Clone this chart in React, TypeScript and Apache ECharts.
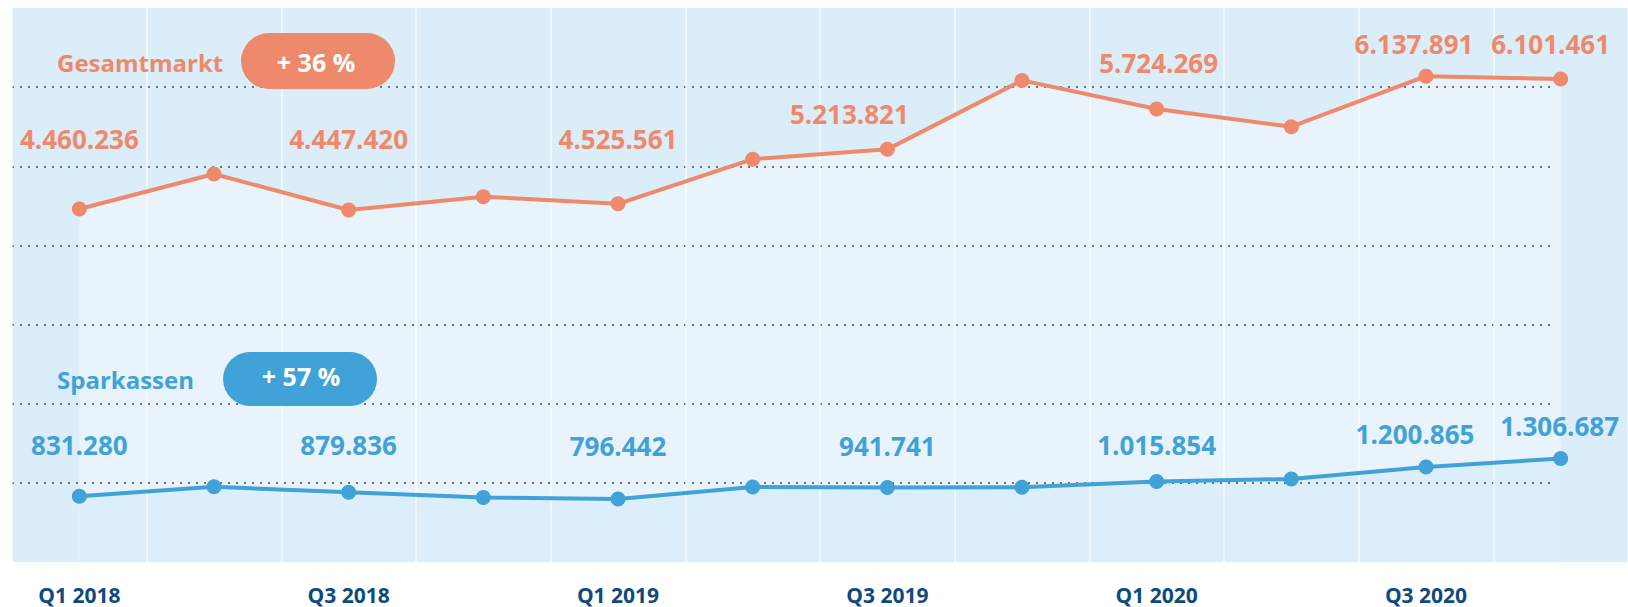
import React, { useEffect, useRef } from "react";
import * as echarts from "echarts";

const categories = [
  "Q1 2018", "Q2 2018", "Q3 2018", "Q4 2018",
  "Q1 2019", "Q2 2019", "Q3 2019", "Q4 2019",
  "Q1 2020", "Q2 2020", "Q3 2020", "Q4 2020",
];
const gesamtmarkt = [
  4460236, 4903000, 4447420, 4616000,
  4525561, 5090000, 5213821, 6085000,
  5724269, 5500000, 6137891, 6101461,
];
const sparkassen = [
  831280, 950000, 879836, 815000,
  796442, 948000, 941741, 944000,
  1015854, 1049000, 1200865, 1306687,
];
const labelledIdx = [0, 2, 4, 6, 8, 10, 11];
const seriesNames = ["Gesamtmarkt", "Sparkassen"];
const growthTexts = ["+ 36 %", "+ 57 %"];
const yTicks = { min: 0, max: 7000000, interval: 1000000 };

// label placement (layout, not data)
const gesamtLabelShift = [[0, -70], [0, -71], [0, -65], [-38, -35], [2, -46], [-12, -32], [-10, -35]];
const sparkLabelShift = [[0, -51], [0, -47], [0, -53], [0, -41], [0, -37], [-11, -33], [-1, -33]];

const ORANGE = "#ee896b";
const BLUE = "#40a2d7";
const DARK = "#0e4a7e";
const FONT = "'Open Sans', 'Noto Sans', sans-serif";

const fmt = (v: number) => String(Math.round(v)).replace(/\B(?=(\d{3})+(?!\d))/g, ".");

function withLabels(values: number[], shifts: number[][]) {
  return values.map((v, i) => {
    const k = labelledIdx.indexOf(i);
    if (k < 0) return v;
    return { value: v, label: { show: true, offset: shifts[k] } };
  });
}

export default function App() {
  const ref = useRef<HTMLDivElement>(null);
  useEffect(() => {
    if (!ref.current) return;
    const chart = echarts.init(ref.current, undefined, { renderer: "svg" });
    const dotColor = "#6a7580";
    const clear = "rgba(0,0,0,0)";
    const lineLabel = (color: string) => ({
      show: false,
      position: "inside",
      color,
      fontFamily: FONT,
      fontWeight: "bold",
      fontSize: 26,
      formatter: (p: any) => fmt(p.value),
    });
    chart.setOption({
      animation: false,
      grid: [
        { left: 12, top: 8, width: 1618, height: 554, show: true, backgroundColor: "#dcedfa", borderWidth: 0 },
        { left: 12, top: 8, width: 1542, height: 554, show: false },
      ],
      xAxis: [
        {
          type: "category",
          gridIndex: 0,
          data: categories,
          boundaryGap: true,
          z: 2,
          axisLine: { show: false },
          axisTick: { show: false },
          axisLabel: {
            interval: 1,
            color: DARK,
            fontFamily: FONT,
            fontWeight: "bold",
            fontSize: 21,
            margin: 22,
          },
          splitLine: { show: true, interval: 0, lineStyle: { color: "rgba(255,255,255,0.75)", width: 1.5 } },
        },
        { type: "value", gridIndex: 1, min: 0, max: 1, show: false },
      ],
      yAxis: [
        {
          type: "value",
          gridIndex: 0,
          ...yTicks,
          show: false,
          splitLine: { show: false },
        },
        {
          type: "value",
          gridIndex: 1,
          ...yTicks,
          z: 2,
          axisLine: { show: false },
          axisTick: { show: false },
          axisLabel: { show: false },
          splitLine: {
            show: true,
            lineStyle: {
              type: [2, 6],
              width: 2,
              color: [clear, dotColor, dotColor, dotColor, dotColor, dotColor, dotColor, clear],
            },
          },
        },
      ],
      series: [
        {
          name: seriesNames[0] + " Fläche",
          type: "line",
          data: gesamtmarkt,
          symbol: "none",
          lineStyle: { width: 0 },
          areaStyle: { color: "rgba(255,255,255,0.52)", origin: "start" },
          silent: true,
          z: 1,
        },
        {
          name: seriesNames[1] + " Fläche",
          type: "line",
          data: sparkassen,
          symbol: "none",
          lineStyle: { width: 0 },
          areaStyle: { color: "#ddeefb", opacity: 1, origin: "start" },
          silent: true,
          z: 1,
        },
        {
          name: seriesNames[0],
          type: "line",
          data: withLabels(gesamtmarkt, gesamtLabelShift),
          symbol: "circle",
          symbolSize: 15,
          itemStyle: { color: ORANGE },
          lineStyle: { color: ORANGE, width: 4 },
          label: lineLabel(ORANGE),
          z: 3,
        },
        {
          name: seriesNames[1],
          type: "line",
          data: withLabels(sparkassen, sparkLabelShift),
          symbol: "circle",
          symbolSize: 15,
          itemStyle: { color: BLUE },
          lineStyle: { color: BLUE, width: 4 },
          label: lineLabel(BLUE),
          z: 3,
        },
      ],
      graphic: [
        {
          type: "text", x: 57, y: 62, z: 10,
          style: { text: seriesNames[0], fill: ORANGE, fontFamily: FONT, fontWeight: "bold", fontSize: 24, align: "left", verticalAlign: "middle" },
        },
        { type: "rect", z: 10, shape: { x: 241, y: 33, width: 154, height: 56, r: 28 }, style: { fill: ORANGE } },
        {
          type: "text", x: 316, y: 62, z: 11,
          style: { text: growthTexts[0], fill: "#ffffff", fontFamily: FONT, fontWeight: "bold", fontSize: 25, align: "center", verticalAlign: "middle" },
        },
        {
          type: "text", x: 57, y: 379, z: 10,
          style: { text: seriesNames[1], fill: BLUE, fontFamily: FONT, fontWeight: "bold", fontSize: 24, align: "left", verticalAlign: "middle" },
        },
        { type: "rect", z: 10, shape: { x: 223, y: 352, width: 154, height: 54, r: 27 }, style: { fill: BLUE } },
        {
          type: "text", x: 301, y: 376, z: 11,
          style: { text: growthTexts[1], fill: "#ffffff", fontFamily: FONT, fontWeight: "bold", fontSize: 25, align: "center", verticalAlign: "middle" },
        },
      ],
    });
    return () => chart.dispose();
  }, []);
  return (
    <div
      ref={ref}
      style={{ position: "fixed", left: 0, top: 0, width: 1628, height: 607, background: "#ffffff" }}
    />
  );
}
